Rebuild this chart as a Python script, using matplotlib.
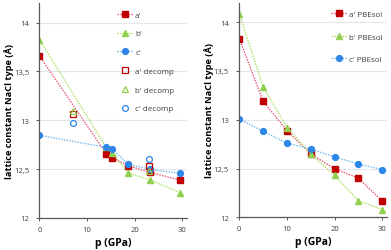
import matplotlib
matplotlib.use("Agg")
import matplotlib.pyplot as plt
from matplotlib.ticker import FuncFormatter

# ---- data: left panel ----
p_left = [0, 14.0, 15.3, 18.6, 23.3, 29.6]
a_left = [13.66, 12.66, 12.617, 12.535, 12.466, 12.387]
b_left = [13.825, 12.726, 12.668, 12.463, 12.387, 12.26]
c_left = [12.846, 12.723, 12.71, 12.55, 12.497, 12.456]

p_decomp = [7.0, 23.0]
a_decomp = [13.066, 12.531]
b_decomp = [13.09, 12.484]
c_decomp = [12.973, 12.603]

# ---- data: right panel (PBEsol) ----
p_right = [0, 5, 10, 15, 20, 25, 30]
a_right = [13.83, 13.19, 12.888, 12.648, 12.498, 12.40, 12.166]
b_right = [14.086, 13.337, 12.92, 12.65, 12.43, 12.17, 12.08]
c_right = [13.01, 12.88, 12.76, 12.70, 12.62, 12.545, 12.49]

xticks = [0, 10, 20, 30]
yticks = [12, 12.5, 13, 13.5, 14]

RED = "#C00000"
RED_L = "#E8506A"
GRN = "#92D050"
GRN_L = "#A8E05A"
BLU = "#2E86E8"
BLU_L = "#6CB8F0"

plt.rcParams['font.family'] = ['Open Sans', 'DejaVu Sans']

fig = plt.figure(figsize=(3.91, 2.51), dpi=100)
axL = fig.add_axes([0.101, 0.1275, 0.377, 0.8565])
axR = fig.add_axes([0.612, 0.13, 0.378, 0.856])

fmt = FuncFormatter(lambda v, pos: (("%g" % v).replace(".", ",")))

for ax in (axL, axR):
    ax.set_xlim(0, 31)
    ax.set_ylim(12, 14.2)
    ax.set_xticks(xticks)
    ax.set_yticks(yticks)
    ax.yaxis.set_major_formatter(fmt)
    for s in ("top", "right"):
        ax.spines[s].set_visible(False)
    for s in ("left", "bottom"):
        ax.spines[s].set_color("#595959")
        ax.spines[s].set_linewidth(0.9)
    ax.tick_params(axis="both", labelsize=5.5, colors="#595959", length=2.5,
                   width=0.7, labelcolor="#404040")
    ax.tick_params(axis="y", pad=5)
    ax.tick_params(axis="x", pad=3)
    ax.grid(axis="y", color="#E3E6EA", linewidth=0.8)
    ax.set_axisbelow(True)
    ax.set_xlabel("p (GPa)", fontsize=7.5, fontweight="bold", labelpad=3)
    ax.set_ylabel("lattice constant NaCl type (Å)", fontsize=6.7,
                  fontweight="bold")
    ax.yaxis.set_label_coords(-0.172, 0.5)
    ax.patch.set_alpha(0)

line_kw = dict(linestyle=(0, (1.2, 1.0)), linewidth=0.9)

# left panel
axL.plot(p_left, a_left, color=RED_L, marker="s", markersize=4.3,
         markerfacecolor=RED, markeredgecolor=RED, label="a'", **line_kw)
axL.plot(p_left, b_left, color=GRN_L, marker="^", markersize=5,
         markerfacecolor=GRN, markeredgecolor=GRN, label="b'", **line_kw)
axL.plot(p_left, c_left, color=BLU_L, marker="o", markersize=4.2,
         markerfacecolor=BLU, markeredgecolor=BLU, label="c'", **line_kw)
axL.plot(p_decomp, a_decomp, linestyle="none", marker="s", markersize=4,
         markerfacecolor="none", markeredgecolor=RED, markeredgewidth=0.9,
         label="a' decomp")
axL.plot(p_decomp, b_decomp, linestyle="none", marker="^", markersize=5,
         markerfacecolor="none", markeredgecolor=GRN, markeredgewidth=0.9,
         label="b' decomp")
axL.plot(p_decomp, c_decomp, linestyle="none", marker="o", markersize=4.2,
         markerfacecolor="none", markeredgecolor=BLU, markeredgewidth=0.9,
         label="c' decomp")
axL.legend(loc="upper left", bbox_to_anchor=(0.49, 0.985), frameon=False,
           fontsize=5.8, handlelength=2.0, handletextpad=0.3,
           labelspacing=1.38, borderaxespad=0.2, labelcolor="#404040")

# right panel
axR.plot(p_right, a_right, color=RED_L, marker="s", markersize=4.3,
         markerfacecolor=RED, markeredgecolor=RED, label="a' PBEsol", **line_kw)
axR.plot(p_right, b_right, color=GRN_L, marker="^", markersize=5,
         markerfacecolor=GRN, markeredgecolor=GRN, label="b' PBEsol", **line_kw)
axR.plot(p_right, c_right, color=BLU_L, marker="o", markersize=4.2,
         markerfacecolor=BLU, markeredgecolor=BLU, label="c' PBEsol", **line_kw)
axR.legend(loc="upper left", bbox_to_anchor=(0.585, 0.985), frameon=False,
           fontsize=5.8, handlelength=2.0, handletextpad=0.3,
           labelspacing=1.85, borderaxespad=0.2, labelcolor="#404040")

fig.savefig("out.png", dpi=100)
